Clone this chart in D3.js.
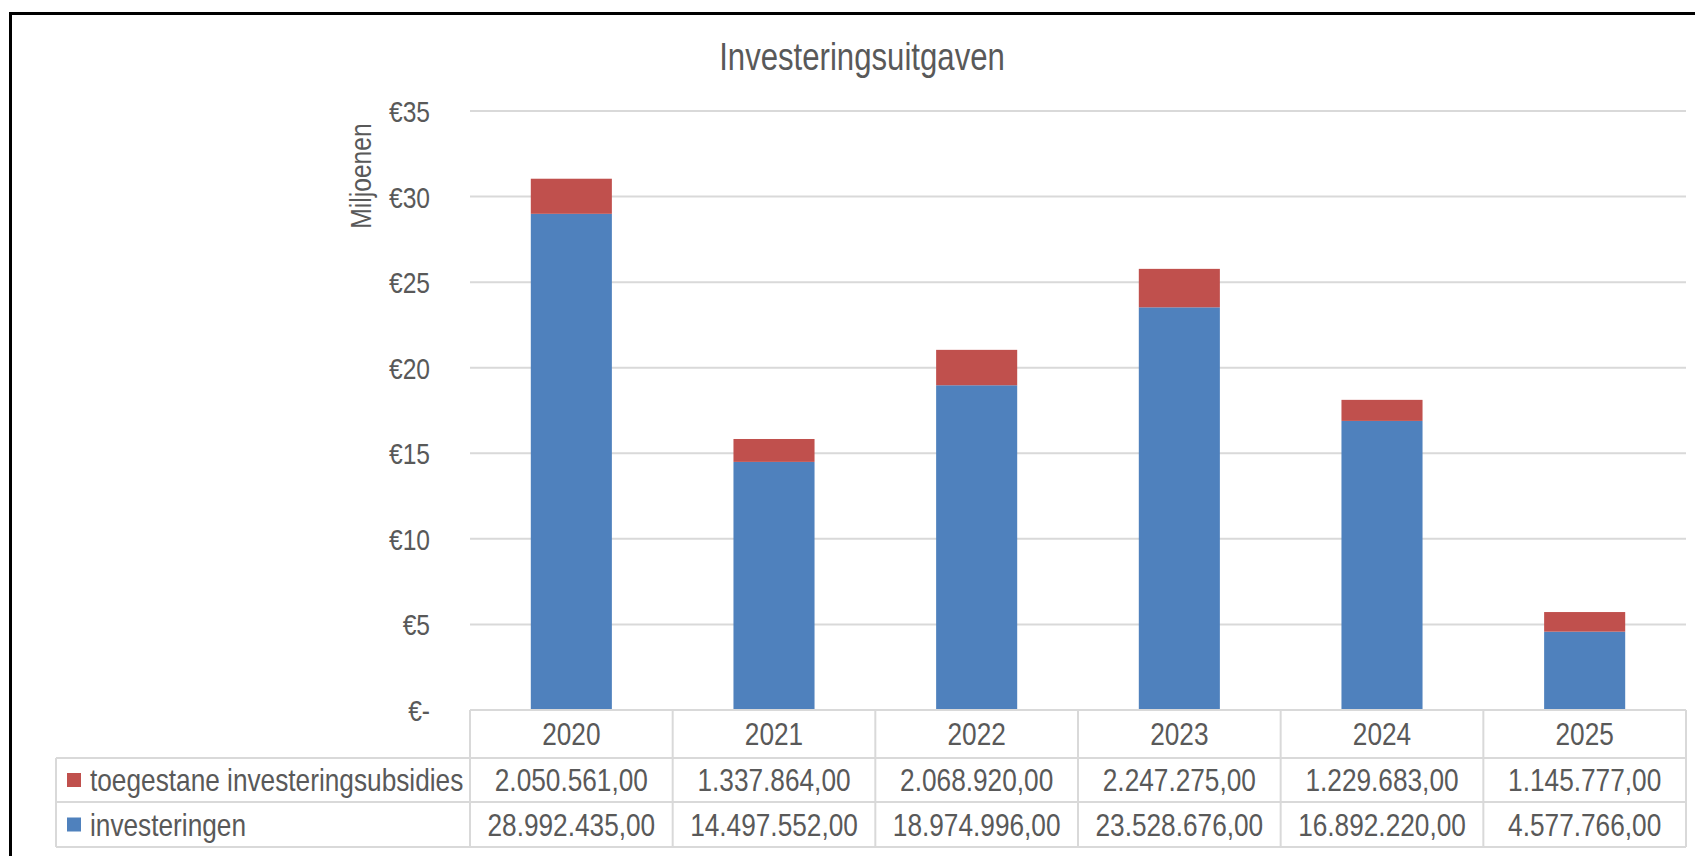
<!DOCTYPE html>
<html>
<head>
<meta charset="utf-8">
<script src="https://cdn.jsdelivr.net/npm/d3@7"></script>
<style>
  html, body { margin: 0; padding: 0; background: #fff; }
  svg { display: block; }
  text { font-family: "Liberation Sans Narrow", "Arial Narrow", "Liberation Sans", Arial, sans-serif; fill: #595959; }
</style>
</head>
<body>
<svg id="chart" width="1695" height="856"></svg>
<script>
// ---- data ----
const years = ["2020", "2021", "2022", "2023", "2024", "2025"];
const investeringen = [28992435, 14497552, 18974996, 23528676, 16892220, 4577766];
const subsidies = [2050561, 1337864, 2068920, 2247275, 1229683, 1145777];
const seriesNames = ["toegestane investeringsubsidies", "investeringen"];
const seriesColors = ["#C0504D", "#4F81BD"];
const yTicks = [0, 5, 10, 15, 20, 25, 30, 35];
const title = "Investeringsuitgaven";
const yTitle = "Miljoenen";

// ---- layout ----
const svg = d3.select("#chart");
const plotLeft = 470, plotRight = 1686, plotTop = 111, plotBottom = 710;
const tableLeft = 56;
const rowH = [48, 44, 45]; // header, subsidies, investeringen
const SX = 0.82; // narrow-font emulation

const x = d3.scaleBand().domain(years).range([plotLeft, plotRight]).paddingInner(0).paddingOuter(0);
const y = d3.scaleLinear().domain([0, 35]).range([plotBottom, plotTop]);

function addText(g, tx, ty, str, size, anchor, extra) {
  return g.append("text")
    .attr("transform", `translate(${tx},${ty})${extra || ""} scale(${SX},1)`)
    .attr("text-anchor", anchor || "start")
    .attr("dy", "0.35em")
    .style("font-size", size + "px")
    .text(str);
}

// outer chart border
svg.append("rect").attr("x", 10.5).attr("y", 13.5).attr("width", 1700).attr("height", 900)
  .attr("fill", "none").attr("stroke", "#000").attr("stroke-width", 3);

// title
addText(svg, 862, 57, title, 38, "middle");

// gridlines
svg.append("g").selectAll("line").data(yTicks.filter(d => d > 0)).join("line")
  .attr("x1", plotLeft).attr("x2", plotRight)
  .attr("y1", d => y(d)).attr("y2", d => y(d))
  .attr("stroke", "#D9D9D9").attr("stroke-width", 2);

// y axis labels
const yAxis = d3.axisLeft(y).tickValues(yTicks).tickSize(0).tickPadding(0)
  .tickFormat(d => d === 0 ? "€-" : "€" + d);
const ga = svg.append("g").attr("transform", `translate(430,0)`).call(yAxis);
ga.select(".domain").remove();
ga.selectAll("text").style("font-size", "30px").attr("fill", "#595959")
  .style("font-family", '"Liberation Sans Narrow", "Arial Narrow", "Liberation Sans", Arial, sans-serif')
  .attr("x", 0).attr("dy", "0.35em").attr("transform", `scale(${SX},1)`);

// y axis title
addText(svg, 360, 176, yTitle, 30, "middle", " rotate(-90)");

// bars (stacked)
const bw = x.bandwidth() * 0.4;
const barG = svg.append("g");
years.forEach((yr, i) => {
  const inv = investeringen[i] / 1e6, sub = subsidies[i] / 1e6;
  const cx = x(yr) + x.bandwidth() / 2;
  barG.append("rect").attr("x", cx - bw / 2).attr("width", bw)
    .attr("y", y(inv)).attr("height", y(0) - y(inv)).attr("fill", seriesColors[1]);
  barG.append("rect").attr("x", cx - bw / 2).attr("width", bw)
    .attr("y", y(inv + sub)).attr("height", y(inv) - y(inv + sub)).attr("fill", seriesColors[0]);
});

// ---- data table ----
const r0 = plotBottom, r1 = r0 + rowH[0], r2 = r1 + rowH[1], r3 = r2 + rowH[2];
const tg = svg.append("g").attr("stroke", "#D9D9D9").attr("stroke-width", 2);
tg.append("line").attr("x1", plotLeft).attr("x2", plotRight).attr("y1", r0).attr("y2", r0);
[r1, r2, r3].forEach(rr => tg.append("line").attr("x1", tableLeft).attr("x2", plotRight).attr("y1", rr).attr("y2", rr));
years.forEach(yr => tg.append("line").attr("x1", x(yr)).attr("x2", x(yr)).attr("y1", r0).attr("y2", r3));
tg.append("line").attr("x1", plotRight).attr("x2", plotRight).attr("y1", r0).attr("y2", r3);
tg.append("line").attr("x1", tableLeft).attr("x2", tableLeft).attr("y1", r1).attr("y2", r3);

const fmt = v => String(v).replace(/\B(?=(\d{3})+(?!\d))/g, ".") + ",00";
const tt = svg.append("g");
years.forEach((yr, i) => {
  const cx = x(yr) + x.bandwidth() / 2;
  addText(tt, cx, (r0 + r1) / 2, yr, 32, "middle");
  addText(tt, cx, (r1 + r2) / 2, fmt(subsidies[i]), 32, "middle");
  addText(tt, cx, (r2 + r3) / 2, fmt(investeringen[i]), 32, "middle");
});
// legend keys in table
[[r1, r2], [r2, r3]].forEach((rr, k) => {
  const cy = (rr[0] + rr[1]) / 2;
  svg.append("rect").attr("x", 67).attr("y", cy - 7).attr("width", 14).attr("height", 14).attr("fill", seriesColors[k]);
  addText(svg, 90, cy, seriesNames[k], 32, "start");
});
</script>
</body>
</html>
